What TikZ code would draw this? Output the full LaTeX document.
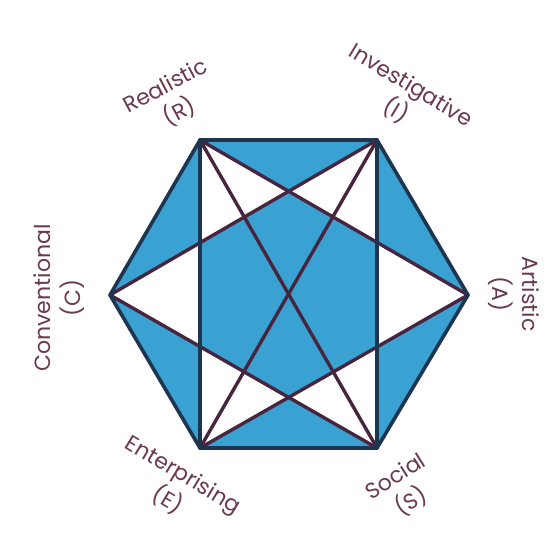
\documentclass[tikz,border=0pt]{standalone}
\usepackage{fontspec}
\setmainfont{Poppins}
\begin{document}
\begin{tikzpicture}[x=1pt,y=-1pt,
  edge/.style={draw=edgecol,line width=3.6pt,line cap=round,line join=round},
  diag/.style={draw=diagcol,line width=3.4pt,line cap=round},
  lab/.style={text=labcol,font=\fontsize{22}{30}\selectfont,inner sep=0pt,align=center}]
\definecolor{fillblue}{HTML}{3AA2D2}
\definecolor{edgecol}{HTML}{1E3550}
\definecolor{diagcol}{HTML}{48253E}
\definecolor{labcol}{HTML}{6A3A50}
\useasboundingbox (0,0) rectangle (559,539);
\fill[white] (0,0) rectangle (559,539);
\coordinate (R) at (200,140);
\coordinate (I) at (377,140);
\coordinate (A) at (468,295);
\coordinate (S) at (377,448);
\coordinate (E) at (200,448);
\coordinate (C) at (110,295);
\coordinate (p1) at (intersection of C--I and R--E);
\coordinate (p2) at (intersection of C--I and R--A);
\coordinate (p3) at (intersection of R--A and I--S);
\coordinate (p4) at (intersection of C--S and R--E);
\coordinate (p5) at (intersection of E--A and I--S);
\coordinate (p6) at (intersection of C--S and E--A);
\fill[fillblue] (R) -- (I) -- (A) -- (S) -- (E) -- (C) -- cycle;
\fill[white] (R) -- (p1) -- (p2) -- cycle;
\fill[white] (I) -- (p3) -- (p2) -- cycle;
\fill[white] (C) -- (p1) -- (p4) -- cycle;
\fill[white] (A) -- (p3) -- (p5) -- cycle;
\fill[white] (E) -- (p4) -- (p6) -- cycle;
\fill[white] (S) -- (p5) -- (p6) -- cycle;
\draw[diag] (R) -- (S);
\draw[diag] (I) -- (E);
\draw[diag] (R) -- (A);
\draw[diag] (C) -- (I);
\draw[diag] (C) -- (S);
\draw[diag] (E) -- (A);
\draw[edge] (R) -- (E);
\draw[edge] (I) -- (S);
\draw[edge] (R) -- (I) -- (A) -- (S) -- (E) -- (C) -- cycle;
\node[lab,rotate=28] (lR) at (173,100) {Realistic\\(R)};
\node[lab,rotate=-31] (lI) at (403,99) {Investigative\\(I)};
\node[lab,rotate=-90] (lA) at (514,294) {Artistic\\(A)};
\node[lab,rotate=90] (lC) at (59,298) {Conventional\\(C)};
\node[lab,rotate=-31] (lE) at (175,488) {Enterprising\\(E)};
\node[lab,rotate=32] (lS) at (404,490) {Social\\(S)};
\end{tikzpicture}
\end{document}
